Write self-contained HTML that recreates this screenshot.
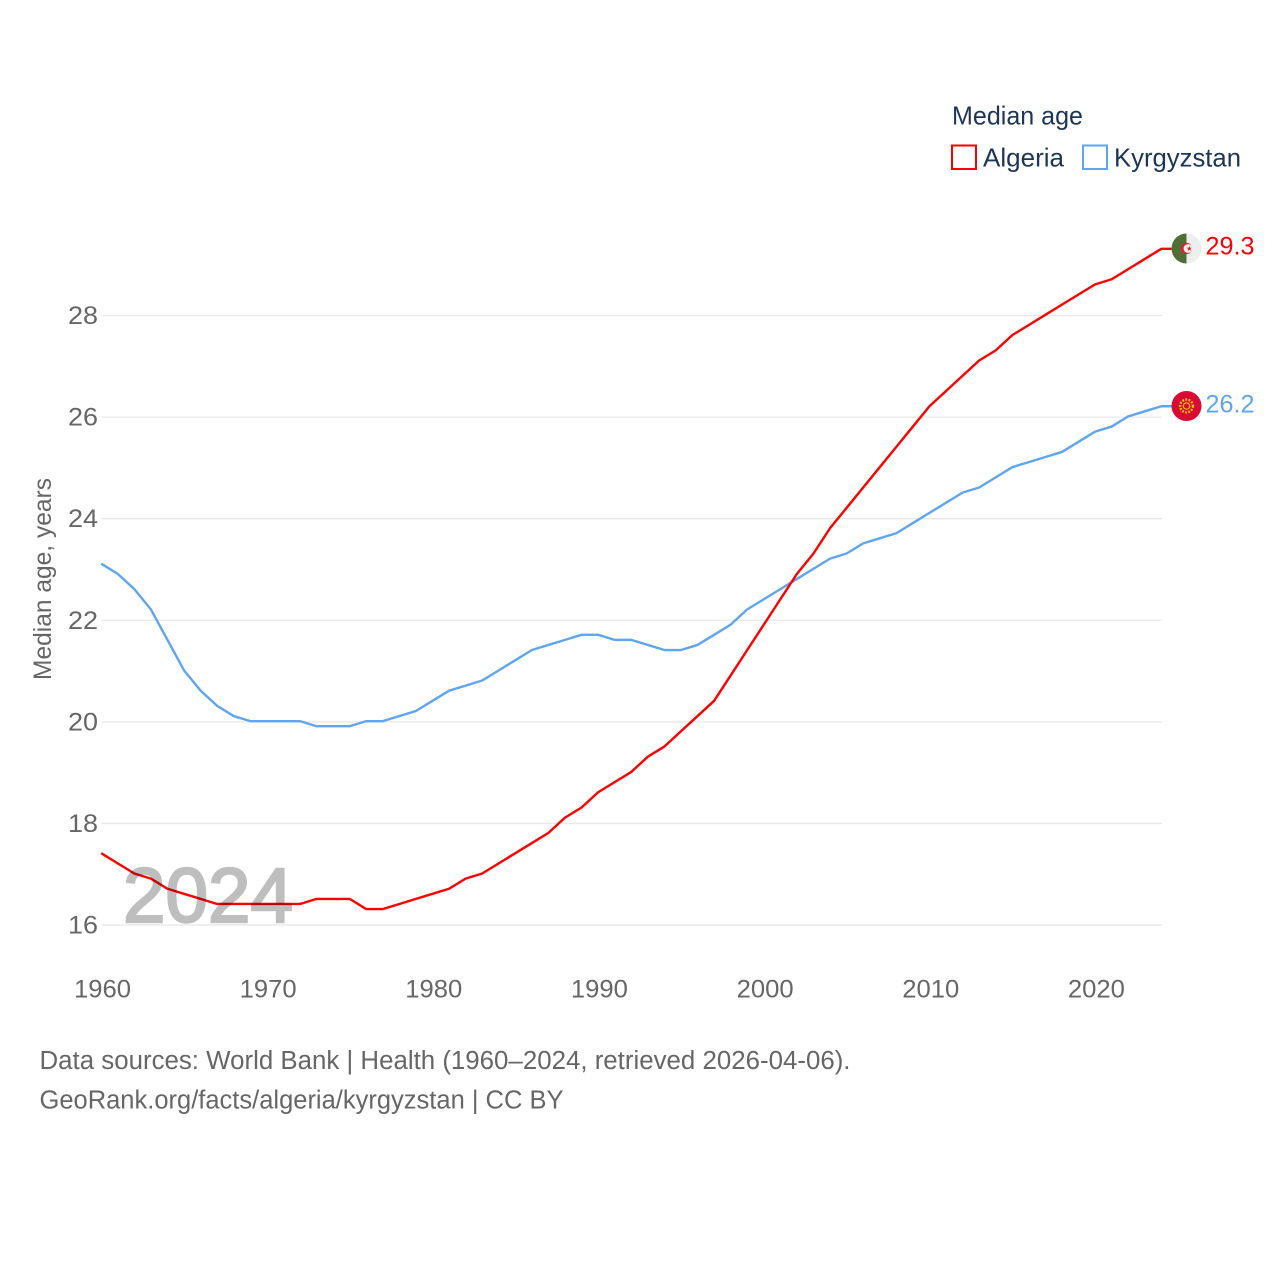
<!DOCTYPE html>
<html lang="en">
<head>
<meta charset="utf-8">
<title>Median age: Algeria and Kyrgyzstan</title>
<style>
html,body{margin:0;padding:0;background:#fff;width:1280px;height:1280px;overflow:hidden}
svg{display:block}
text{font-family:"Liberation Sans",sans-serif}
</style>
</head>
<body>
<svg id="chart" xmlns="http://www.w3.org/2000/svg" width="1280" height="1280" viewBox="0 0 1280 1280">
  <defs>
    <clipPath id="flag-clip-a"><circle cx="1186.5" cy="248.5" r="15"/></clipPath>
    <clipPath id="flag-clip-k"><circle cx="1186.5" cy="406" r="15"/></clipPath>
  </defs>
  <g id="grid"></g>
  <g id="yticks"></g>
  <g id="xticks"></g>
  <g id="series" transform="translate(-0.3 -0.7)"></g>

  <g opacity="0.25">
    <text x="123" y="922" font-size="77" fill="#000" stroke="#000" stroke-width="2.4" textLength="170" lengthAdjust="spacingAndGlyphs">2024</text>
  </g>

  <text transform="translate(51 680) rotate(-90)" font-size="25" fill="#666" textLength="202" lengthAdjust="spacingAndGlyphs">Median age, years</text>

  <g>
    <text x="952" y="124.5" font-size="26" fill="#1d3557" textLength="131" lengthAdjust="spacingAndGlyphs">Median age</text>
    <rect x="952" y="145.5" width="24" height="23.5" fill="none" stroke="#ff0000" stroke-width="2"/>
    <text x="983" y="166.5" font-size="26" fill="#1d3557" textLength="81" lengthAdjust="spacingAndGlyphs">Algeria</text>
    <rect x="1083" y="145.5" width="24" height="23.5" fill="none" stroke="#60a5ef" stroke-width="2"/>
    <text x="1114" y="166.5" font-size="26" fill="#1d3557" textLength="127" lengthAdjust="spacingAndGlyphs">Kyrgyzstan</text>
  </g>

  <g clip-path="url(#flag-clip-a)">
    <rect x="1171" y="233" width="15.5" height="31" fill="#4f6f37"/>
    <rect x="1186.5" y="233" width="15.5" height="31" fill="#eeeeee"/>
    <circle cx="1186.5" cy="248.5" r="5.6" fill="#d8232f"/>
    <circle cx="1188" cy="248.5" r="4.4" fill="#eeeeee"/>
    <polygon points="1189.3,246 1190,247.8 1191.9,247.8 1190.4,249 1190.9,250.9 1189.3,249.8 1187.7,250.9 1188.2,249 1186.7,247.8 1188.6,247.8" fill="#d8232f"/>
  </g>
  <g clip-path="url(#flag-clip-k)">
    <rect x="1171" y="390" width="31" height="32" fill="#d90b33"/>
    <circle cx="1186.5" cy="406" r="6.4" fill="none" stroke="#f5c518" stroke-width="2.4" stroke-dasharray="1.8 1.4"/>
    <circle cx="1186.5" cy="406" r="3.2" fill="none" stroke="#f5c518" stroke-width="1.2"/>
  </g>
  <text x="1205.5" y="254.5" font-size="25" fill="#ff0000" textLength="49" lengthAdjust="spacingAndGlyphs">29.3</text>
  <text x="1205.5" y="412.5" font-size="25" fill="#60a5ef" textLength="49" lengthAdjust="spacingAndGlyphs">26.2</text>

  <text x="39.5" y="1069" font-size="25.5" fill="#666" textLength="811" lengthAdjust="spacingAndGlyphs">Data sources: World Bank | Health (1960–2024, retrieved 2026-04-06).</text>
  <text x="39.5" y="1108.5" font-size="25.5" fill="#666" textLength="524" lengthAdjust="spacingAndGlyphs">GeoRank.org/facts/algeria/kyrgyzstan | CC BY</text>
</svg>
<script>
const startYear = 1960;
const algeria = [17.4,17.2,17.0,16.9,16.7,16.6,16.5,16.4,16.4,16.4,16.4,16.4,16.4,16.5,16.5,16.5,16.3,16.3,16.4,16.5,16.6,16.7,16.9,17.0,17.2,17.4,17.6,17.8,18.1,18.3,18.6,18.8,19.0,19.3,19.5,19.8,20.1,20.4,20.9,21.4,21.9,22.4,22.9,23.3,23.8,24.2,24.6,25.0,25.4,25.8,26.2,26.5,26.8,27.1,27.3,27.6,27.8,28.0,28.2,28.4,28.6,28.7,28.9,29.1,29.3];
const kyrgyzstan = [23.1,22.9,22.6,22.2,21.6,21.0,20.6,20.3,20.1,20.0,20.0,20.0,20.0,19.9,19.9,19.9,20.0,20.0,20.1,20.2,20.4,20.6,20.7,20.8,21.0,21.2,21.4,21.5,21.6,21.7,21.7,21.6,21.6,21.5,21.4,21.4,21.5,21.7,21.9,22.2,22.4,22.6,22.8,23.0,23.2,23.3,23.5,23.6,23.7,23.9,24.1,24.3,24.5,24.6,24.8,25.0,25.1,25.2,25.3,25.5,25.7,25.8,26.0,26.1,26.2];
const yTickLabels = [16,18,20,22,24,26,28];
const xTickLabels = [1960,1970,1980,1990,2000,2010,2020];

const NS = 'http://www.w3.org/2000/svg';
const xScale = function (year) { return 101.5 + (year - 1960) * 16.565; };
const yScale = function (v) { return 925 - (v - 16) * 50.79; };

function make(tag, attrs, parent) {
  const el = document.createElementNS(NS, tag);
  Object.keys(attrs).forEach(function (k) { el.setAttribute(k, attrs[k]); });
  parent.appendChild(el);
  return el;
}

const gridG = document.getElementById('grid');
const yG = document.getElementById('yticks');
const xG = document.getElementById('xticks');
const seriesG = document.getElementById('series');

yTickLabels.forEach(function (t) {
  const line = make('line', {x1: 101.5, x2: 1162, y1: yScale(t), y2: yScale(t), stroke: '#e8e8e8', 'stroke-width': 1.3}, gridG);
  
  
  const label = make('text', {x: 98, y: yScale(t) + 8.5, 'text-anchor': 'end', 'font-size': 25, fill: '#666', textLength: 30, lengthAdjust: 'spacingAndGlyphs'}, yG);
  
  
  label.textContent = t;
});

xTickLabels.forEach(function (t) {
  const label = make('text', {x: xScale(t) + 1, y: 997.5, 'text-anchor': 'middle', 'font-size': 25, fill: '#666', textLength: 57, lengthAdjust: 'spacingAndGlyphs'}, xG);
  
  
  label.textContent = t;
});

function drawSeries(values, color, name) {
  const pts = values.map(function (v, i) { return xScale(startYear + i).toFixed(2) + ',' + yScale(v).toFixed(2); });
  const last = values[values.length - 1];
  pts.push('1172,' + yScale(last).toFixed(2));
  const line = make('polyline', {points: pts.join(' '), fill: 'none', stroke: color, 'stroke-width': 2.4, 'stroke-linejoin': 'round'}, seriesG);
  
  
}
drawSeries(kyrgyzstan, '#60a5ef', 'line-kyrgyzstan');
drawSeries(algeria, '#ff0000', 'line-algeria');
</script>
</body>
</html>
